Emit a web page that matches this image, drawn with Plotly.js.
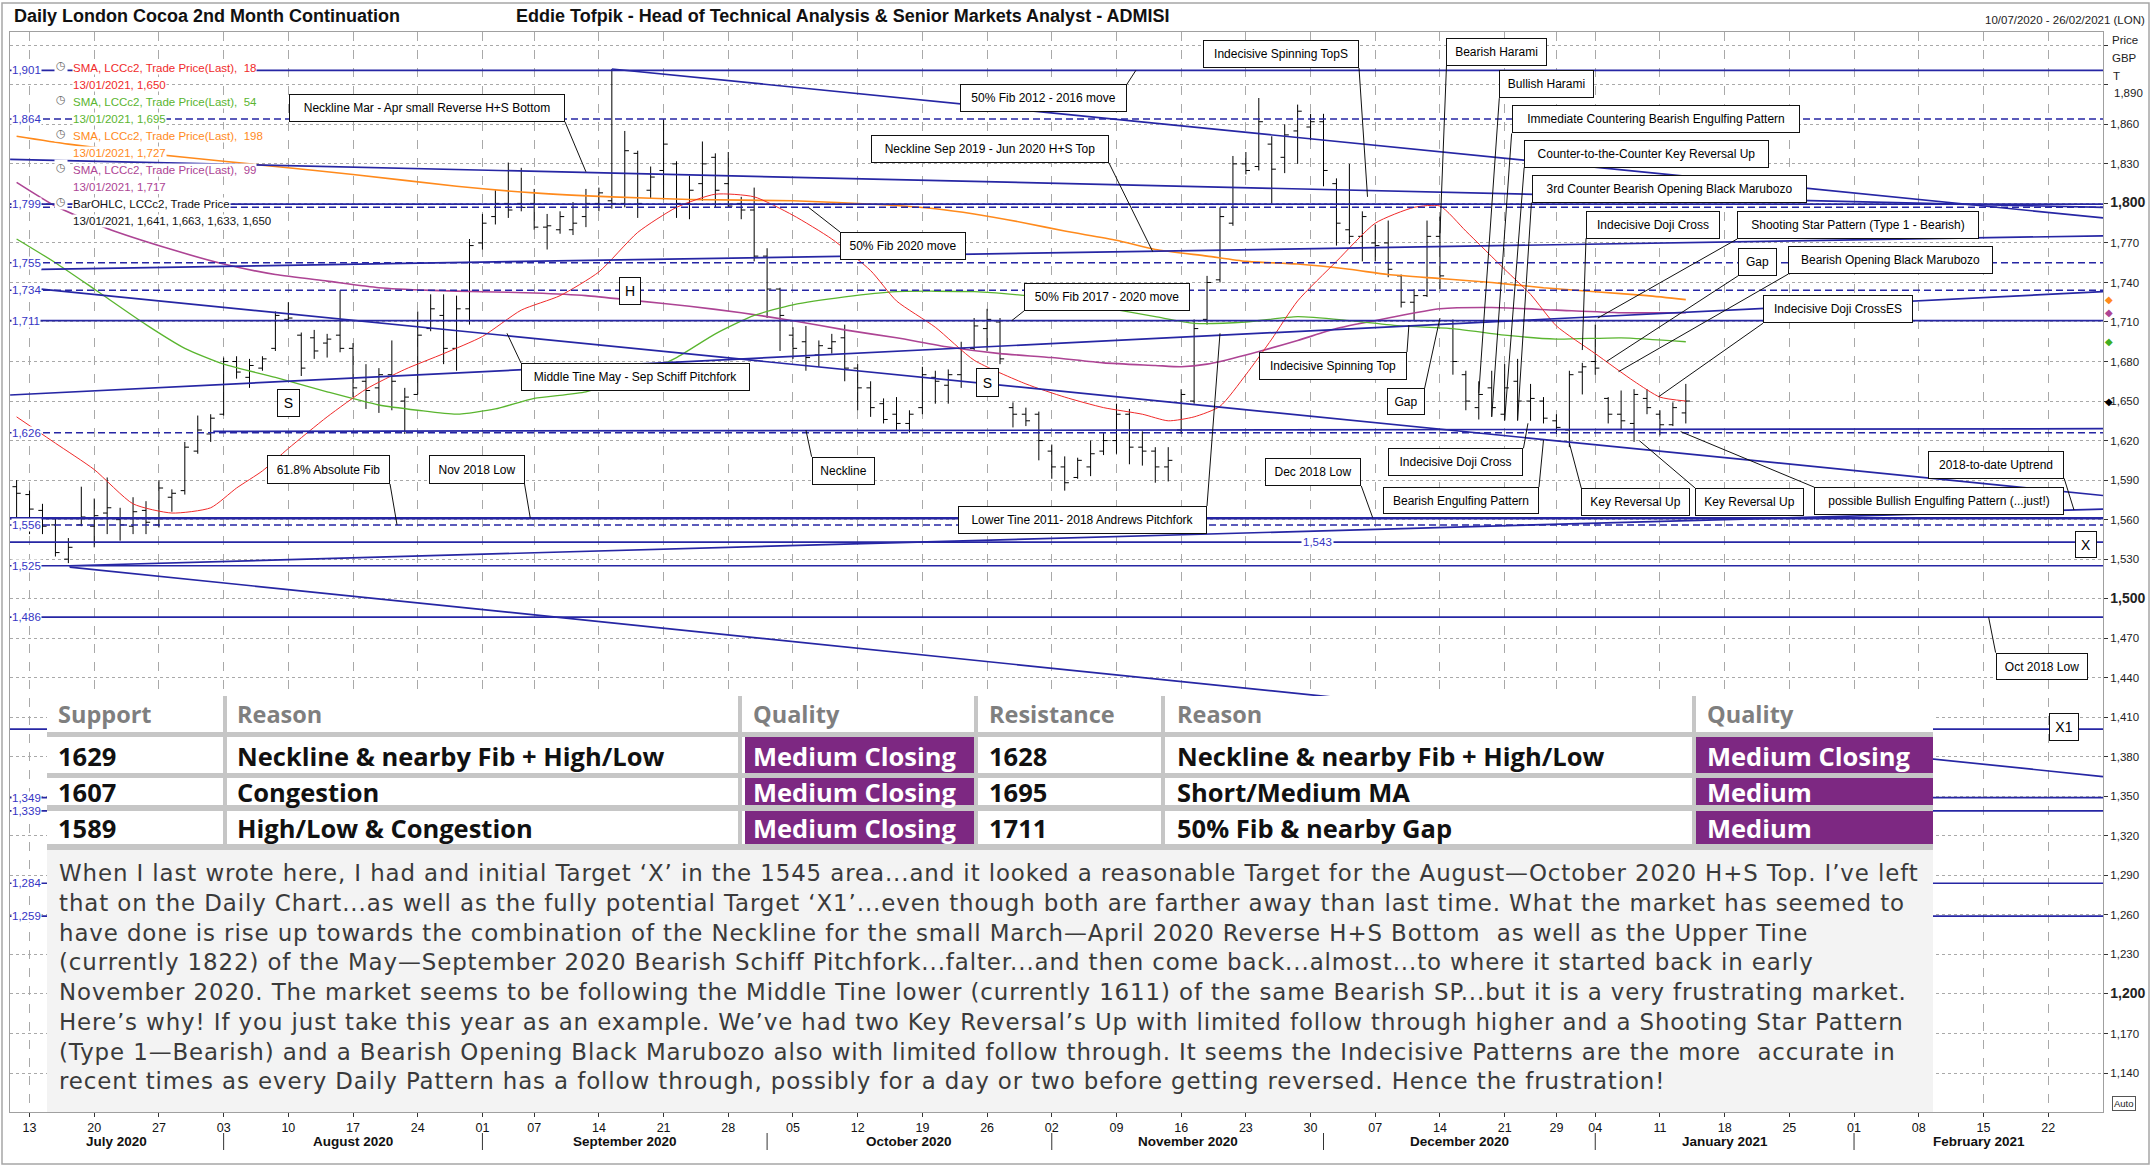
<!DOCTYPE html>
<html><head><meta charset="utf-8">
<script src="https://cdn.plot.ly/plotly-3.0.1.min.js"></script>
<style>html,body{margin:0;padding:0;background:#fff;}#chart{width:2151px;height:1166px;}</style>
</head><body><div id="chart"></div>
<script>
// ================= DATA =================
const holidays = ['2020-08-31','2020-12-25','2020-12-28','2021-01-01'];
const firstDay = '2020-07-10', lastAxisDay = '2021-02-26';

const open = [1585,1579,1567,1556,1530,1556,1555,1565,1560,1555,
1567,1556,1577,1582,1612,1625,1640,1680,1668,1675,
1690,1712,1700,1698,1694,1700,1690,1665,1660,1670,
1650,1655,1705,1715,1690,1720,1770,1790,1800,1800,
1800,1782,1780,1780,1790,1800,1802,1800,1838,1810,
1825,1830,1800,1815,1835,1815,1800,1795,1760,1735,
1700,1695,1685,1690,1698,1675,1660,1648,1640,1633,
1645,1668,1662,1670,1690,1705,1710,1645,1640,1640,
1612,1600,1592,1600,1612,1620,1640,1615,1612,1600,
1628,1650,1712,1742,1785,1830,1828,1845,1835,1855,
1858,1862,1815,1780,1775,1770,1770,1745,1725,1730,
1775,1705,1670,1645,1660,1640,1665,1650,1650,1635,
1628,1672,1680,1652,1640,1633,1652,1640,1632,1641];
const high = [1590,1582,1572,1562,1546,1585,1576,1592,1569,1577,
1574,1590,1583,1619,1639,1640,1683,1684,1682,1684,
1718,1725,1702,1704,1701,1734,1694,1678,1675,1696,
1660,1718,1731,1731,1730,1773,1792,1810,1831,1827,
1811,1792,1794,1801,1811,1812,1902,1855,1840,1828,
1864,1832,1821,1847,1838,1839,1805,1812,1766,1736,
1706,1707,1696,1701,1708,1678,1665,1652,1653,1643,
1676,1673,1674,1695,1713,1720,1713,1649,1645,1642,
1617,1608,1607,1620,1626,1648,1644,1627,1615,1615,
1659,1712,1745,1797,1836,1839,1880,1851,1860,1875,
1868,1868,1819,1830,1794,1784,1787,1746,1735,1787,
1790,1712,1673,1665,1673,1678,1682,1663,1653,1640,
1673,1679,1708,1653,1658,1659,1659,1643,1649,1663];
const low = [1556,1549,1549,1532,1527,1555,1539,1549,1544,1549,
1549,1554,1566,1579,1610,1619,1639,1667,1660,1673,
1688,1710,1669,1682,1683,1687,1653,1644,1641,1643,
1625,1655,1703,1678,1673,1708,1765,1784,1789,1794,
1780,1765,1777,1776,1782,1794,1796,1797,1789,1804,
1803,1789,1788,1802,1797,1797,1788,1756,1713,1688,
1682,1673,1676,1686,1665,1643,1638,1633,1628,1626,
1640,1648,1648,1660,1688,1688,1678,1630,1631,1605,
1591,1582,1591,1593,1609,1610,1602,1601,1588,1589,
1625,1648,1708,1740,1783,1822,1825,1800,1823,1830,
1848,1813,1768,1769,1756,1756,1744,1721,1711,1729,
1735,1670,1643,1636,1638,1635,1635,1635,1633,1625,
1615,1655,1670,1633,1628,1619,1640,1624,1631,1633];
const close = [1580,1568,1555,1535,1539,1562,1563,1569,1556,1566,
1558,1584,1580,1615,1628,1637,1680,1672,1677,1682,
1715,1713,1675,1688,1697,1690,1660,1658,1670,1665,
1653,1700,1720,1690,1720,1768,1785,1800,1795,1797,
1782,1783,1790,1785,1800,1808,1800,1840,1800,1820,
1845,1800,1810,1830,1810,1798,1795,1760,1735,1715,
1690,1683,1692,1695,1675,1660,1645,1636,1633,1640,
1670,1665,1670,1690,1707,1712,1682,1640,1635,1620,
1600,1588,1605,1610,1620,1640,1615,1612,1600,1605,
1655,1705,1740,1790,1830,1825,1862,1826,1852,1870,
1862,1825,1785,1775,1790,1768,1750,1725,1730,1775,
1745,1680,1650,1655,1645,1660,1650,1652,1637,1630,
1670,1676,1675,1640,1635,1655,1645,1632,1645,1650];

// moving averages, read at sampled trading-day indices
const ma18Idx = [0,3,6,9,12,15,17,19,21,24,27,30,33,36,39,42,45,48,51,54,57,60,63,66,68,71,74,78,81,84,87,89,91,93,95,97,99,102,105,108,110,112,115,117,119,122,125,127,129];
const ma18 = [1638,1618,1598,1572,1565,1569,1584,1597,1614,1638,1659,1674,1686,1699,1719,1730,1748,1778,1797,1807,1805,1791,1773,1749,1726,1706,1681,1663,1653,1645,1640,1635,1638,1646,1670,1697,1726,1756,1785,1797,1798,1779,1750,1731,1707,1686,1665,1653,1650];
const ma54Idx = [0,3,6,10,13,16,20,24,28,31,34,37,40,44,48,51,54,57,60,64,68,74,78,84,88,91,95,99,103,107,111,115,119,124,129];
const ma54 = [1773,1755,1735,1708,1690,1678,1668,1657,1647,1643,1640,1644,1652,1657,1670,1683,1701,1715,1723,1729,1733,1733,1730,1721,1714,1709,1710,1714,1711,1707,1705,1700,1697,1698,1695];
const ma99Idx = [0,3,7,12,16,20,24,28,32,36,40,44,48,52,56,60,64,68,72,76,80,84,88,90,92,95,99,102,106,110,114,119,124,129];
const ma99 = [1816,1798,1781,1765,1754,1746,1741,1736,1734,1733,1732,1730,1726,1722,1717,1711,1704,1698,1691,1686,1683,1679,1677,1676,1678,1685,1696,1705,1713,1720,1721,1719,1717,1717];
const ma198Idx = [0,4,10,16,20,26,34,40,46,52,60,67,71,74,78,81,85,88,92,95,99,103,106,110,114,118,122,126,129];
const ma198 = [1851,1845,1838,1832,1828,1822,1813,1808,1805,1803,1802,1799,1796,1792,1785,1779,1772,1765,1760,1756,1754,1750,1746,1743,1740,1736,1733,1730,1727];

// horizontal levels
const levelVals   = [1901,1864,1799.5,1797,1755,1734,1711,1626,1561,1556,1543,1525,1486,1401,1349,1339,1284,1259];
const levelDash   = ['solid','dash','solid','dash','dash','dash','solid','dash','solid','dash','solid','solid','solid','solid','solid','solid','solid','solid'];
const levelLabels = ['1,901','1,864','','1,799','1,755','1,734','1,711','1,626','','1,556','','1,525','1,486','','1,349','1,339','1,284','1,259'];

// trend lines: position in trading days since 10 Jul 2020, price
const trendX0 = [46, -0.5, 1.9, 1.9, -0.5, 4.05, 4.1, 15.2];
const trendY0 = [1902, 1833.5, 1750, 1735, 1654.6, 1525, 1524, 1627];
const trendX1 = [161.24,161.24,161.24,161.24,161.24,161.24,161.24,161.24];
const trendY1 = [1789, 1797, 1775.4, 1578.3, 1733, 1568, 1365, 1629];

// table
const tableHeader = ['Support','Reason','Quality','Resistance','Reason','Quality'];
const supportLevels = [1629,1607,1589];
const supportReasons = ['Neckline & nearby Fib + High/Low','Congestion','High/Low & Congestion'];
const supportQuality = ['Medium Closing','Medium Closing','Medium Closing'];
const resistanceLevels = [1628,1695,1711];
const resistanceReasons = ['Neckline & nearby Fib + High/Low','Short/Medium MA','50% Fib & nearby Gap'];
const resistanceQuality = ['Medium Closing','Medium','Medium'];

const commentary = [
 'When I last wrote here, I had and initial Target \u2018X\u2019 in the 1545 area...and it looked a reasonable Target for the August\u2014October 2020 H+S Top. I\u2019ve left',
 'that on the Daily Chart...as well as the fully potential Target \u2018X1\u2019...even though both are farther away than last time. What the market has seemed to',
 'have done is rise up towards the combination of the Neckline for the small March\u2014April 2020 Reverse H+S Bottom  as well as the Upper Tine',
 '(currently 1822) of the May\u2014September 2020 Bearish Schiff Pitchfork...falter...and then come back...almost...to where it started back in early',
 'November 2020. The market seems to be following the Middle Tine lower (currently 1611) of the same Bearish SP...but it is a very frustrating market.',
 'Here\u2019s why! If you just take this year as an example. We\u2019ve had two Key Reversal\u2019s Up with limited follow through higher and a Shooting Star Pattern',
 '(Type 1\u2014Bearish) and a Bearish Opening Black Marubozo also with limited follow through. It seems the Indecisive Patterns are the more  accurate in',
 'recent times as every Daily Pattern has a follow through, possibly for a day or two before getting reversed. Hence the frustration!'
];

// callouts: text, target trading-day, target price, box dx, box dy(up), box w, box h, leader dx, leader dy(up)
const callouts = [
 ['Neckline Mar - Apr small Reverse H+S Bottom', 44, 1824, -159, 63.8, 276, 28, -21, 50.1],
 ['50% Fib 2012 - 2016 move', 86.5, 1901, -92.4, -27.8, 167, 28, -8.9, -13.8],
 ['Indecisive Spinning TopS', 104.4, 1805, -86.5, 142.8, 156, 28, -8.5, 128.8],
 ['Neckline Sep 2019 - Jun 2020 H+S Top', 87.8, 1763.4, -162.7, 102.6, 238, 28, -43.7, 88.6],
 ['50% Fib 2020 move', 61.2, 1797, 94.5, -38.6, 126, 28, 31.5, -24.6],
 ['50% Fib 2017 - 2020 move', 76.9, 1711, 95.3, 23.7, 166, 28, 12.3, 9.7],
 ['H', 47.4, 1733.5, 0, 0, 22, 28, null, null],
 ['S', 21.0, 1648.5, 0, 0, 23, 28, null, null],
 ['S', 75.0, 1664.1, 0, 0, 23, 29, null, null],
 ['Middle Tine May - Sep Schiff Pitchfork', 37.9, 1701.4, 128.5, -43.7, 229, 28, 14, -29.7],
 ['61.8% Absolute Fib', 29.4, 1556, -68.5, 55.4, 123, 29, -7, 40.9],
 ['Nov 2018 Low', 39.7, 1561, -53.3, 49, 96, 29, -5.8, 34.5],
 ['Neckline', 61, 1628, 37.1, -41, 63, 28, 5.7, -26.7],
 ['Lower Tine 2011- 2018 Andrews Pitchfork', 93.0, 1701.4, -137.5, -186.2, 249, 28, -13, -172.7],
 ['Indecisive Spinning Top', 107.6, 1707.7, -75.9, -40.5, 148, 28, -1.9, -27],
 ['Gap', 110, 1713, -34.4, -83.5, 38, 27, -15.3, -70],
 ['Dec 2018 Low', 104.8, 1561.5, -59.2, 45.7, 96, 28, -11.4, 31.7],
 ['Indecisive Doji Cross', 116.8, 1633.1, -72, -39, 135, 28, -4.5, -25],
 ['Bearish Engulfing Pattern', 118, 1620.4, -82.5, -60.5, 156, 27, -4.5, -47],
 ['Key Reversal Up', 120, 1618, 66.2, -58.6, 109, 28, 11.9, -44.9],
 ['Key Reversal Up', 125.4, 1620, 110.1, -61.3, 109, 28, 55.7, -47.3],
 ['possible Bullish Engulfing Pattern (...just!)', 128.6, 1626.8, 258.6, -69.6, 250, 28, 133.7, -55.6],
 ['2018-to-date Uptrend', 159, 1567.3, -77.7, 45.5, 136, 28, -9.9, 31.7],
 ['X', 159.9, 1541.4, 0, 0, 22, 27, null, null],
 ['Oct 2018 Low', 152.4, 1486, 53, -49.2, 92, 27, 7, -35.5],
 ['X1', 158.2, 1402.9, 0, 0, 30, 28, null, null],
 ['Bearish Harami', 110, 1777.3, 57, 181.8, 101, 28, 6.5, 167.6],
 ['Bullish Harami', 113, 1655.9, 67.9, 309.2, 95, 28, 20.5, 295.1],
 ['Immediate Countering Bearish Engulfing Pattern', 114, 1638.1, 163.8, 297.4, 288, 28, 19.9, 283.3],
 ['Counter-to-the-Counter Key Reversal Up', 115, 1635.6, 142.1, 266.2, 245, 28, 19.5, 252.4],
 ['3rd Counter Bearish Opening Black Marubozo', 116, 1635.6, 151.4, 231.2, 275, 28, 13.8, 217.4],
 ['Indecisive Doji Cross', 121, 1688.7, 70.9, 125.5, 134, 28, 3.7, 111.7],
 ['Shooting Star Pattern (Type 1 - Bearish)', 122.2, 1713, 260.1, 93.2, 242, 28, 139.3, 79],
 ['Gap', 122.85, 1679.9, 150.9, 99.9, 39, 28, 131.7, 85.7],
 ['Bearish Opening Black Marubozo', 123.8, 1672.3, 272.3, 111.7, 205, 28, 169.9, 97.7],
 ['Indecisive Doji CrossES', 126.9, 1653.3, 179.4, 87.5, 150, 28, 104.3, 73.4]
];

// ================= LAYOUT HELPERS =================
const W = 2151, H = 1166, L = 10, R = 48, T = 32, B = 54;
const PW = W - L - R, PH = H - T - B;
const px2x = p => (p - L) / PW;
const py2y = p => (H - B - p) / PH;
const F = "'Liberation Sans', Arial, sans-serif";
const FN = "'Liberation Sans Narrow', 'Arial Narrow', 'Liberation Sans', Arial, sans-serif";
const FC = "'Open Sans', Lato, sans-serif";
const FP = "'DejaVu Sans', 'Open Sans', sans-serif";
const NAVY = '#2626a4';
const fmt = v => v.toLocaleString('en-US');

function buildCalendar(start, end, hol) {
  const out = []; const d = new Date(start + 'T00:00:00Z'); const e = new Date(end + 'T00:00:00Z');
  while (d <= e) {
    const wd = d.getUTCDay(); const s = d.toISOString().slice(0, 10);
    if (wd !== 0 && wd !== 6 && !hol.includes(s)) out.push(s);
    d.setUTCDate(d.getUTCDate() + 1);
  }
  return out;
}
const calendar = buildCalendar(firstDay, lastAxisDay, holidays);
const dates = calendar.slice(0, close.length);

const tickVals = [], tickText = [];
for (let k = 1; k < calendar.length; k++) {
  const a = new Date(calendar[k-1] + 'T00:00:00Z').getUTCDay();
  const b = new Date(calendar[k] + 'T00:00:00Z').getUTCDay();
  if (b <= a) { tickVals.push(calendar[k]); tickText.push(calendar[k].slice(8, 10)); }
}
const monthIdx = [];
for (let k = 1; k < calendar.length; k++) if (calendar[k].slice(5,7) !== calendar[k-1].slice(5,7)) monthIdx.push(k);
const monthNames = ['July 2020','August 2020','September 2020','October 2020','November 2020','December 2020','January 2021','February 2021'];
const xRange = [-0.51, 161.24];

const yTickVals = [], yTickText = [];
for (let v = 1140; v <= 1920; v += 30) {
  yTickVals.push(v);
  if (v === 1890 || v === 1920) yTickText.push('');
  else if (v % 300 === 0) yTickText.push('<span style="font-size:14px"><b>' + fmt(v) + '</b></span>');
  else yTickText.push(fmt(v));
}

// ================= TRACES =================
const traces = [];
const maDefs = [
  [ma198Idx, ma198, '#ff8a1c', 1.6],
  [ma99Idx, ma99, '#ad4494', 1.6],
  [ma54Idx, ma54, '#5ab52f', 1.3],
  [ma18Idx, ma18, '#f02a2a', 1.0]
];
maDefs.forEach(m => traces.push({
  type: 'scatter', mode: 'lines', x: m[0].map(k => calendar[k]), y: m[1],
  line: {color: m[2], width: m[3], shape: 'spline', smoothing: 0.6}, hoverinfo: 'skip', showlegend: false
}));
traces.push({
  type: 'ohlc', x: dates, open: open, high: high, low: low, close: close,
  increasing: {line: {color: '#000', width: 1}}, decreasing: {line: {color: '#000', width: 1}},
  tickwidth: 0.32, hoverinfo: 'skip', showlegend: false
});

// ================= SHAPES =================
const shapes = [];
trendX0.forEach((x0, k) => shapes.push({type: 'line', xref: 'x', yref: 'y', x0: x0, y0: trendY0[k], x1: trendX1[k], y1: trendY1[k],
  line: {color: NAVY, width: 1.7}, layer: 'above'}));
levelVals.forEach((v, k) => shapes.push({type: 'line', xref: 'paper', yref: 'y', x0: 0, x1: 1, y0: v, y1: v,
  line: {color: NAVY, width: levelDash[k] === 'dash' ? 1.5 : (v === 1561 ? 2.6 : 1.7), dash: levelDash[k] === 'dash' ? '7px,4px' : 'solid'}, layer: 'above'}));
callouts.forEach(c => {
  if (c[7] === null) return;
  shapes.push({type: 'line', xref: 'x', yref: 'y', xsizemode: 'pixel', ysizemode: 'pixel', xanchor: c[1], yanchor: c[2],
    x0: 0, y0: 0, x1: c[7], y1: c[8], line: {color: '#111', width: 1}, layer: 'above'});
});
monthIdx.forEach(k => shapes.push({type: 'line', xref: 'x', yref: 'paper', x0: k, x1: k, y0: py2y(1133), y1: py2y(1150),
  line: {color: '#333', width: 1}}));
function rectPx(x0, y0, x1, y1, fill, line) {
  return {type: 'rect', xref: 'paper', yref: 'paper', x0: px2x(x0), x1: px2x(x1), y0: py2y(y1), y1: py2y(y0),
    fillcolor: fill, line: line || {width: 0}, layer: 'above'};
}
shapes.push(rectPx(47, 696, 1933, 850, '#ffffff'));
shapes.push(rectPx(47, 850, 1933, 1112, '#f3f3f3'));
[[732,737],[773,778],[805,811],[844,850]].forEach(b => shapes.push(rectPx(47, b[0], 1933, b[1], '#c6c6c6')));
[[223,227],[738,742],[974,978],[1161,1165],[1692,1696]].forEach(b => shapes.push(rectPx(b[0], 696, b[1], 850, '#c6c6c6')));
const rowY = [[737,773],[778,805],[811,844]];
rowY.forEach(r => { shapes.push(rectPx(745, r[0], 974, r[1], '#7d2882')); shapes.push(rectPx(1696, r[0], 1933, r[1], '#7d2882')); });
shapes.push({type: 'rect', xref: 'paper', yref: 'paper', x0: px2x(2), x1: px2x(2149), y0: py2y(1164), y1: py2y(3),
  line: {color: '#a6a6a6', width: 1.5}, fillcolor: 'rgba(0,0,0,0)', layer: 'above'});

// ================= ANNOTATIONS =================
const ann = [];
const txt = (x, y, text, o) => ann.push(Object.assign({xref: 'paper', yref: 'paper', x: px2x(x), y: py2y(y), text: text,
  showarrow: false, xanchor: 'left', yanchor: 'middle', font: {family: F, size: 12, color: '#000'}}, o || {}));

txt(12, 16, '<b>Daily London Cocoa 2nd Month Continuation</b>', {font: {family: F, size: 18, color: '#111'}});
txt(514, 16, '<b>Eddie Tofpik - Head of Technical Analysis & Senior Markets Analyst - ADMISI</b>', {font: {family: F, size: 18, color: '#111'}});
txt(2147, 20, '10/07/2020 - 26/02/2021 (LON)', {xanchor: 'right', font: {family: F, size: 11.5, color: '#222'}});
txt(2110, 40, 'Price', {font: {family: F, size: 11.5, color: '#222'}});
txt(2110, 58, 'GBP', {font: {family: F, size: 11.5, color: '#222'}});
txt(2111, 76, 'T', {font: {family: F, size: 11.5, color: '#222'}});
txt(2112, 93, '1,890', {font: {family: F, size: 11.5, color: '#222'}});
txt(2124, 1103, 'Auto', {xanchor: 'center', bordercolor: '#555', borderwidth: 1, borderpad: 1, font: {family: F, size: 9.5, color: '#222'}});

[[ma198, '#ff8a1c'], [ma99, '#ad4494'], [ma54, '#3fae22'], [close, '#000']].forEach(d => ann.push({
  xref: 'paper', yref: 'y', x: px2x(2108.5), y: d[0][d[0].length - 1], text: '\u25C6', showarrow: false,
  xanchor: 'center', yanchor: 'middle', font: {family: 'DejaVu Sans', size: 10, color: d[1]}}));

const legendItems = [
  ['SMA, LCCc2, Trade Price(Last),  18', '13/01/2021, ' + fmt(ma18[ma18.length-1]), '#f02a2a'],
  ['SMA, LCCc2, Trade Price(Last),  54', '13/01/2021, ' + fmt(ma54[ma54.length-1]), '#5ab52f'],
  ['SMA, LCCc2, Trade Price(Last),  198', '13/01/2021, ' + fmt(ma198[ma198.length-1]), '#ff8a1c'],
  ['SMA, LCCc2, Trade Price(Last),  99', '13/01/2021, ' + fmt(ma99[ma99.length-1]), '#ad4494'],
  ['BarOHLC, LCCc2, Trade Price', '13/01/2021, ' + [open, high, low, close].map(a => fmt(a[a.length-1])).join(', '), '#111']
];
legendItems.forEach((it, k) => {
  const y0 = 67.7 + 34 * k;
  txt(61, y0 - 2, '\u25F7', {xanchor: 'center', bgcolor: '#fff', font: {family: 'DejaVu Sans', size: 11, color: '#666'}});
  txt(72, y0, it[0], {bgcolor: '#fff', borderpad: 0, font: {family: F, size: 11.5, color: it[2]}});
  txt(72, y0 + 17, it[1], {bgcolor: '#fff', borderpad: 0, font: {family: F, size: 11.5, color: it[2]}});
});

levelVals.forEach((v, k) => {
  if (!levelLabels[k]) return;
  const yv = levelLabels[k] === '1,799' ? 1799.5 : v;
  ann.push({xref: 'paper', yref: 'y', x: px2x(11), y: yv, text: levelLabels[k], showarrow: false, xanchor: 'left', yanchor: 'middle',
    bgcolor: '#fff', borderpad: 0, font: {family: F, size: 11.5, color: '#3535c4'}});
});
ann.push({xref: 'paper', yref: 'y', x: px2x(1317), y: 1543, text: '1,543', showarrow: false, xanchor: 'center', yanchor: 'middle',
  bgcolor: '#fff', borderpad: 1, font: {family: F, size: 11.5, color: '#3535c4'}});

callouts.forEach(c => ann.push({
  xref: 'x', yref: 'y', x: c[1], y: c[2], xshift: c[3], yshift: c[4], text: c[0], showarrow: false,
  width: c[5] - 2, height: c[6] - 2, bgcolor: '#fff', bordercolor: '#111', borderwidth: 1, borderpad: 0,
  xanchor: 'center', yanchor: 'middle', align: 'center', valign: 'middle',
  font: {family: F, size: (c[0].length <= 2 ? 14 : 12), color: '#000'}
}));

const bounds = [xRange[0]].concat(monthIdx).concat([xRange[1]]);
monthNames.forEach((m, k) => ann.push({xref: 'x', yref: 'paper', x: (bounds[k] + bounds[k+1]) / 2, y: py2y(1141),
  text: '<b>' + m + '</b>', showarrow: false, xanchor: 'center', yanchor: 'middle', font: {family: FN, size: 13.5, color: '#111'}}));

const colX = [56, 235, 751, 987, 1175, 1705];
tableHeader.forEach((h, k) => txt(colX[k], 714, '<b>' + h + '</b>', {font: {family: FC, size: 23.5, color: '#7f7f7f'}}));
const rowC = [755.5, 791.5, 827.5];
for (let r = 0; r < 3; r++) {
  const cells = [String(supportLevels[r]), supportReasons[r], supportQuality[r], String(resistanceLevels[r]), resistanceReasons[r], resistanceQuality[r]];
  cells.forEach((t, k) => txt(colX[k], rowC[r], '<b>' + t + '</b>',
    {font: {family: FC, size: 25.5, color: (k === 2 || k === 5) ? '#ffffff' : '#111'}}));
}
// commentary paragraph as a single multi-line text block
ann.push({xref: 'paper', yref: 'paper', x: px2x(57), y: py2y(858),
  text: commentary.map(s => '<span style="letter-spacing:0.9px">' + s + '</span>').join('<br>'), showarrow: false,
  xanchor: 'left', yanchor: 'top', align: 'left', font: {family: FP, size: 22.9, color: '#3a3a3a'}});

// ================= LAYOUT =================
const layout = {
  width: W, height: H, margin: {l: L, r: R, t: T, b: B, pad: 0}, autosize: false,
  paper_bgcolor: '#fff', plot_bgcolor: '#fff', showlegend: false, hovermode: false,
  xaxis: {type: 'category', categoryorder: 'array', categoryarray: calendar, range: xRange,
    tickmode: 'array', tickvals: tickVals, ticktext: tickText, tickangle: 0,
    ticks: 'outside', ticklen: 4, tickcolor: '#333', tickfont: {family: FN, size: 12.5, color: '#111'},
    showgrid: true, gridcolor: '#a9a9a9', griddash: 'dash', gridwidth: 1,
    showline: true, linecolor: '#a0a0a0', linewidth: 1, mirror: true, zeroline: false,
    rangeslider: {visible: false}, fixedrange: true},
  yaxis: {side: 'right', range: [1110.4, 1930.1], tickmode: 'array', tickvals: yTickVals, ticktext: yTickText,
    ticks: 'outside', ticklen: 4, tickcolor: '#333', tickfont: {family: F, size: 11.5, color: '#222'},
    showgrid: true, gridcolor: '#a9a9a9', griddash: 'dot', gridwidth: 1,
    showline: true, linecolor: '#a0a0a0', linewidth: 1, mirror: true, zeroline: false, fixedrange: true},
  shapes: shapes, annotations: ann
};
Plotly.newPlot('chart', traces, layout, {displayModeBar: false, staticPlot: true});
</script>
</body></html>
